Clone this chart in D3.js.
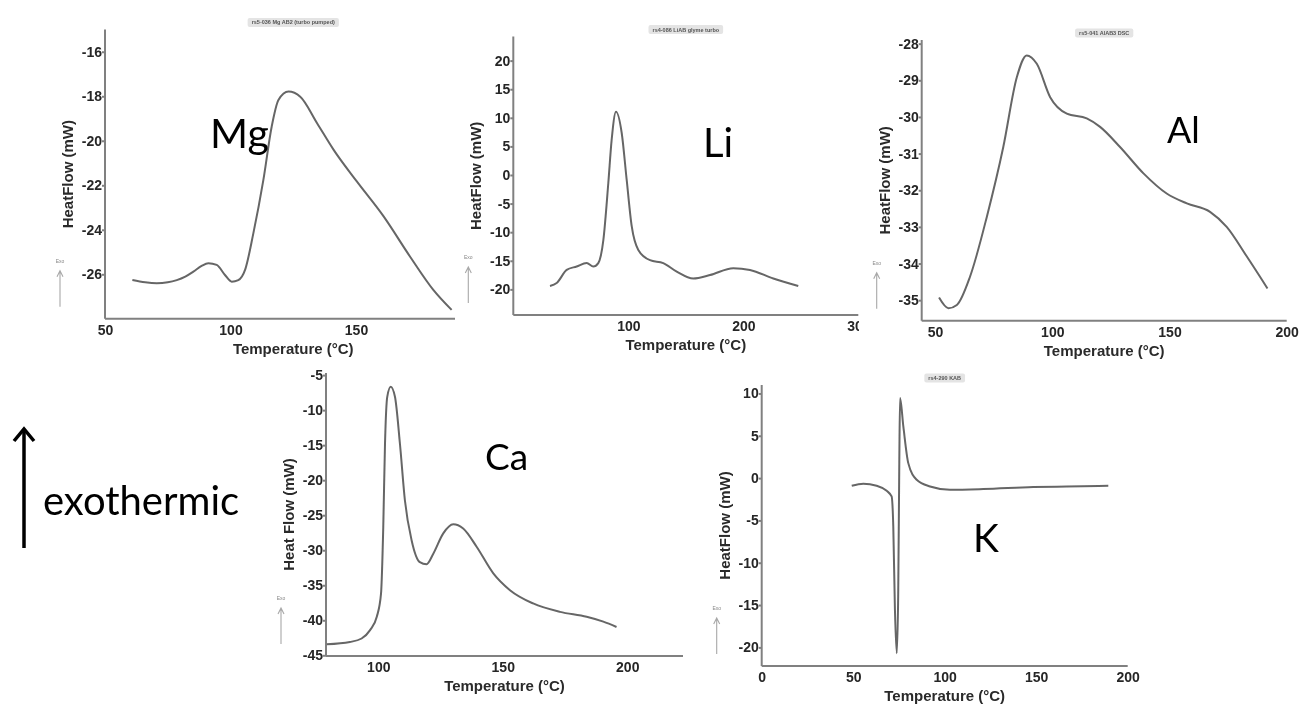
<!DOCTYPE html>
<meta charset="utf-8">
<style>
body { margin: 0; background: #fff; }
svg text { font-family: 'Liberation Sans', Arial, sans-serif; }
.axis path, .axis line { stroke: #808080; stroke-width: 2; }
.axis text { font-weight: bold; font-size: 14px; fill: #262626; }
.alabel { font-weight: bold; font-size: 15px; fill: #2a2a2a; }
.big { font-family: Lato, sans-serif; fill: #000; }
.curve { fill: none; stroke: #666; stroke-width: 2; }
</style>
<body>
<div class="viz"></div>
<script src="https://cdnjs.cloudflare.com/ajax/libs/d3/7.8.5/d3.min.js"></script>
<script>
// values
const mgTemp = [60.9, 66, 70.6, 75, 78.6, 82, 85.2, 88.5, 91.2, 94.5, 97.8, 100.5, 103.1, 105.8, 109.1, 113.1, 116.4, 119.1, 123.1, 127.8, 134.5, 141.1, 150.4, 161.0, 171.5, 180.8, 188.1];
const mgHeat = [-26.26, -26.36, -26.40, -26.36, -26.26, -26.1, -25.88, -25.62, -25.5, -25.58, -26.03, -26.33, -26.26, -25.8, -24.16, -21.76, -19.37, -18.17, -17.79, -18.02, -19.21, -20.41, -21.84, -23.4, -25.2, -26.7, -27.6];

const liTemp = [31.9, 37.7, 46.4, 55.1, 63.8, 69.6, 73.9, 78.3, 82.6, 85.5, 89.3, 94.3, 98.6, 103, 108.7, 118.9, 130.4, 142.1, 156.5, 171, 191.3, 205.8, 226.1, 247.8];
const liHeat = [-19.4, -18.9, -16.6, -16.0, -15.4, -16.0, -15.4, -11.4, -1.45, 6.1, 11.07, 7.3, -0.87, -9.0, -13.1, -14.9, -15.4, -16.9, -18.1, -17.5, -16.3, -16.6, -18.1, -19.4];

const alTemp = [51.7, 55.7, 59.3, 64.9, 72.1, 79.1, 84.9, 89.1, 93.4, 99.1, 106.2, 114.7, 120.4, 128.9, 138.9, 148.8, 157.4, 167.3, 174.4, 183, 191.8];
const alHeat = [-34.93, -35.22, -35.13, -34.36, -32.72, -30.82, -28.91, -28.32, -28.55, -29.46, -29.91, -30.04, -30.27, -30.82, -31.54, -32.09, -32.36, -32.59, -33.0, -33.81, -34.68];

const caTemp = [79.3, 88.6, 93.3, 96.7, 99.4, 101.1, 102, 102.7, 103.6, 105, 106.7, 108.7, 110.7, 113.4, 116.7, 119.4, 122.1, 126.1, 130.1, 134.1, 139.5, 146.2, 152.9, 162.2, 173, 183.7, 190.4, 195.7];
const caHeat = [-43.43, -43.1, -42.6, -41.4, -39.5, -36.2, -26.7, -14.8, -8.1, -6.67, -8.1, -14.8, -22.9, -28.6, -31.7, -32.0, -30.5, -27.6, -26.3, -26.9, -29.5, -33.3, -35.7, -37.6, -38.8, -39.5, -40.2, -40.96];

const kTemp = [49.2, 55.5, 62.8, 68.3, 71, 71.9, 72.8, 73.8, 74.6, 75.2, 75.6, 77.4, 80.1, 84.7, 92, 102.9, 121.1, 148.4, 166.7, 189.4];
const kHeat = [-0.91, -0.67, -0.91, -1.5, -2.17, -5.7, -15.5, -20.7, -13.6, 2.16, 9.45, 6.1, 1.77, -0.2, -0.99, -1.38, -1.3, -1.06, -0.99, -0.91];

// tick labels
const mgXTicks = [50, 100, 150, 200], mgYTicks = [-16, -18, -20, -22, -24, -26];
const liXTicks = [100, 200, 300], liYTicks = [20, 15, 10, 5, 0, -5, -10, -15, -20];
const alXTicks = [50, 100, 150, 200], alYTicks = [-28, -29, -30, -31, -32, -33, -34, -35];
const caXTicks = [100, 150, 200], caYTicks = [-5, -10, -15, -20, -25, -30, -35, -40, -45];
const kXTicks = [0, 50, 100, 150, 200], kYTicks = [10, 5, 0, -5, -10, -15, -20];

const panels = [
  {name: 'Mg', temp: mgTemp, heat: mgHeat, xt: mgXTicks, yt: mgYTicks,
   xd: [50, 200], xr: [105, 481.5], yd: [-28, -15], yr: [318.8, 29.5], clipR: 455,
   title: 'rs5-036 Mg AB2 (turbo pumped)', yLabel: 'HeatFlow (mW)', big: [210, 148, 41]},
  {name: 'Li', temp: liTemp, heat: liHeat, xt: liXTicks, yt: liYTicks,
   xd: [0, 300], xr: [513.3, 858.3], yd: [-24.5, 24.2], yr: [315.1, 36.6], clipR: 859,
   title: 'rs4-086 LiAB glyme turbo', yLabel: 'HeatFlow (mW)', big: [703, 157, 40]},
  {name: 'Al', temp: alTemp, heat: alHeat, xt: alXTicks, yt: alYTicks,
   xd: [44.3, 200], xr: [921.7, 1286.7], yd: [-35.56, -27.9], yr: [320.7, 40], clipR: 1299,
   title: 'rs5-041 AlAB3 DSC', yLabel: 'HeatFlow (mW)', big: [1167, 143, 36]},
  {name: 'Ca', temp: caTemp, heat: caHeat, xt: caXTicks, yt: caYTicks,
   xd: [79, 222.4], xr: [326, 683], yd: [-45.1, -4.7], yr: [656, 373], clipR: 700,
   title: null, yLabel: 'Heat Flow  (mW)', big: [485, 470, 37]},
  {name: 'K', temp: kTemp, heat: kHeat, xt: kXTicks, yt: kYTicks,
   xd: [0, 200], xr: [761.7, 1127.7], yd: [-22.2, 11], yr: [666, 385], clipR: 1299,
   title: 'rs4-290 KAB', yLabel: 'HeatFlow (mW)', big: [973, 552, 39]}
];

const svg = d3.select('.viz').append('svg')
    .attr('width', 1299)
    .attr('height', 705);

const defs = svg.append('defs');
defs.append('filter').attr('id', 'soft')
  .append('feGaussianBlur').attr('stdDeviation', 0.45);

const root = svg.append('g').attr('filter', 'url(#soft)');

panels.forEach((p, i) => {
  defs.append('clipPath').attr('id', 'clip' + i)
    .append('rect').attr('x', 0).attr('y', 0).attr('width', p.clipR).attr('height', 705);

  const g = root.append('g').attr('clip-path', `url(#clip${i})`);
  const x = d3.scaleLinear().domain(p.xd).range(p.xr);
  const y = d3.scaleLinear().domain(p.yd).range(p.yr);
  const xMid = (p.xr[0] + p.xr[1]) / 2;

  g.append('g').attr('class', 'axis')
    .attr('transform', `translate(0,${p.yr[0]})`)
    .call(d3.axisBottom(x).tickValues(p.xt).tickSize(0).tickPadding(6).tickFormat(d => String(d)))
    .call(a => a.select('.domain').attr('d', `M${p.xr[0]},0H${p.xr[1]}`));

  g.append('g').attr('class', 'axis')
    .attr('transform', `translate(${p.xr[0]},0)`)
    .call(d3.axisLeft(y).tickValues(p.yt).tickSize(3).tickPadding(0).tickFormat(d => String(d)))
    .call(a => a.select('.domain').attr('d', `M0,${p.yr[0]}V${p.yr[1]}`));

  const pts = p.temp.map((t, k) => [t, p.heat[k]]);
  g.append('path')
    .datum(pts)
    .attr('class', 'curve')
    .attr('d', d3.line().x(d => x(d[0])).y(d => y(d[1])).curve(d3.curveMonotoneX));

  g.append('text').attr('class', 'alabel')
    .attr('x', xMid).attr('y', p.yr[0] + 35)
    .attr('text-anchor', 'middle')
    .text('Temperature (°C)');

  g.append('text').attr('class', 'alabel')
    .attr('transform', `translate(${p.xr[0] - 36},${(p.yr[0] + p.yr[1]) / 2}) rotate(-90)`)
    .attr('text-anchor', 'middle')
    .attr('dominant-baseline', 'middle')
    .text(p.yLabel);

  // little exo arrow at the lower left
  const ex = p.xr[0] - 45, eb = p.yr[0] - 12, et = eb - 36;
  g.append('path')
    .attr('d', `M${ex},${eb}V${et}M${ex - 3},${et + 6}L${ex},${et}L${ex + 3},${et + 6}`)
    .attr('fill', 'none').attr('stroke', '#a8a8a8').attr('stroke-width', 1.1);
  g.append('text')
    .attr('x', ex).attr('y', et - 8)
    .attr('text-anchor', 'middle')
    .style('font-size', '5px').style('fill', '#888')
    .text('Exo');

  if (p.title) {
    const tg = g.append('g').attr('transform', `translate(${xMid},${p.yr[1] - 7})`);
    const tt = tg.append('text')
      .attr('text-anchor', 'middle').attr('dy', '0.35em')
      .style('font-size', '5.5px').style('font-weight', 'bold').style('fill', '#555')
      .text(p.title);
    const w = tt.node().getComputedTextLength() + 8;
    tg.insert('rect', 'text')
      .attr('x', -w / 2).attr('y', -4.5).attr('width', w).attr('height', 9)
      .attr('rx', 2).attr('fill', '#e4e4e4');
  }

  g.append('text').attr('class', 'big')
    .attr('x', p.big[0]).attr('y', p.big[1])
    .style('font-size', p.big[2] + 'px')
    .text(p.name);
});

// exothermic direction marker
root.append('line')
  .attr('x1', 24).attr('x2', 24).attr('y1', 548).attr('y2', 431)
  .attr('stroke', '#000').attr('stroke-width', 3.5);
root.append('path')
  .attr('d', 'M14,441 L24,429 L34,441')
  .attr('fill', 'none').attr('stroke', '#000').attr('stroke-width', 3.5);
root.append('text').attr('class', 'big')
  .attr('x', 43).attr('y', 515)
  .style('font-size', '40px')
  .text('exothermic');
</script>
</body>
